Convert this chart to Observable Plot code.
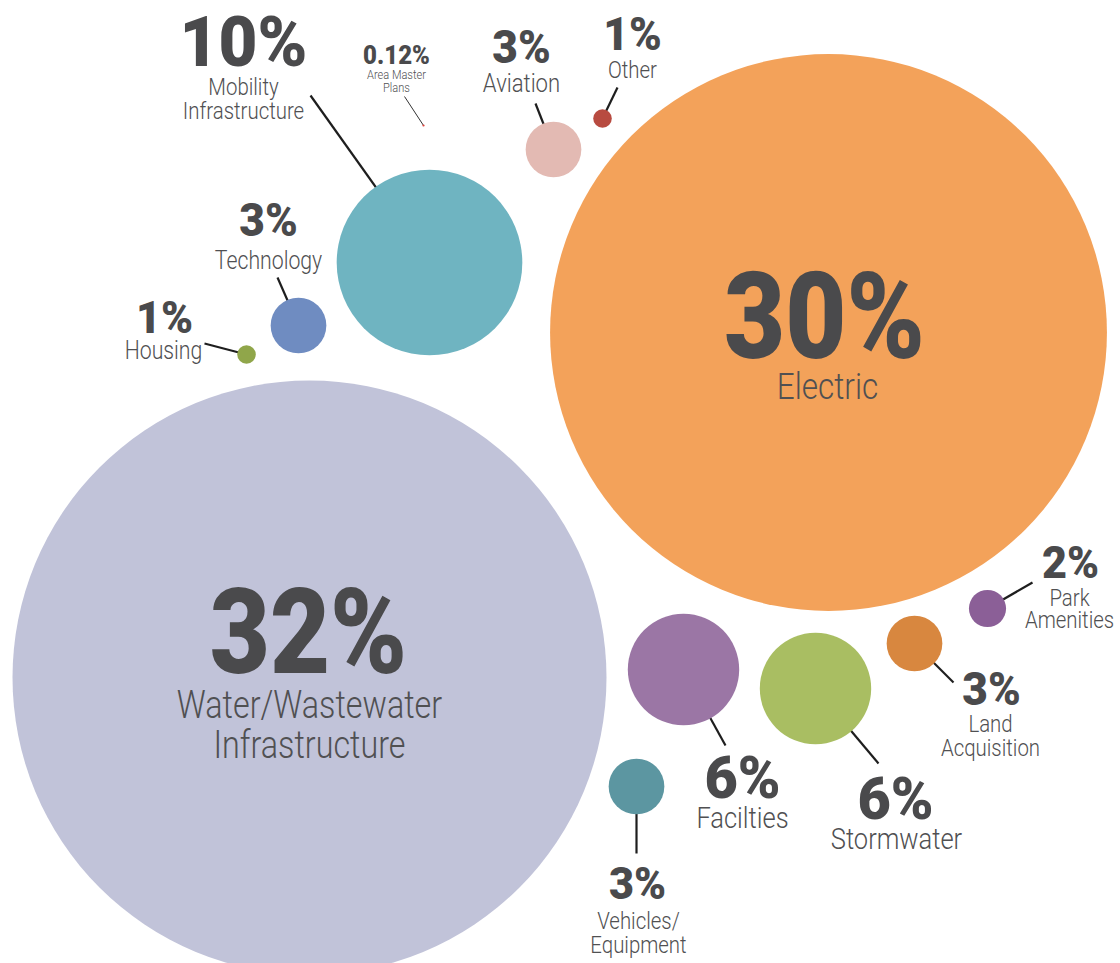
<!DOCTYPE html>
<html>
<head>
<meta charset="utf-8">
<script src="https://cdn.jsdelivr.net/npm/d3@7"></script>
<script src="https://cdn.jsdelivr.net/npm/@observablehq/plot@0.6"></script>
<style>
  html, body { margin: 0; padding: 0; background: #ffffff; }
  #chart svg { display: block; }
</style>
</head>
<body>
<div id="chart"></div>
<script>
// ---- data ----
const categories = ["Water/Wastewater Infrastructure", "Electric", "Mobility Infrastructure", "Facilities", "Stormwater", "Technology", "Aviation", "Land Acquisition", "Vehicles/Equipment", "Park Amenities", "Housing", "Other", "Area Master Plans"];
const shares = [32, 30, 10, 6, 6, 3, 3, 3, 3, 2, 1, 1, 0.12];
const shareLabels = ["32%", "30%", "10%", "6%", "6%", "3%", "3%", "3%", "3%", "2%", "1%", "1%", "0.12%"];
const nameLines = [["Water/Wastewater", "Infrastructure"], ["Electric"], ["Mobility", "Infrastructure"], ["Facilties"], ["Stormwater"], ["Technology"], ["Aviation"], ["Land", "Acquisition"], ["Vehicles/", "Equipment"], ["Park", "Amenities"], ["Housing"], ["Other"], ["Area Master", "Plans"]];
const colors = ["#c1c3d9", "#f3a25a", "#6fb4c1", "#9b76a5", "#a9be62", "#6f8cc1", "#e3bab3", "#d8873f", "#5c96a1", "#8b5f97", "#90a64a", "#b84b40", "#e0403a"];

// ---- hand layout of the bubble chart (chart units, y downward) ----
const bubbleX = [309, 828, 429, 683, 815, 298, 553, 914, 636, 987, 246, 602, 423];
const bubbleY = [677, 332, 262, 669, 688, 325, 149, 643, 786, 608, 354, 118, 125];
const pctX = [308, 824, 243, 742, 895, 268, 521, 991, 637, 1070, 164, 632, 396];
const pctY = [672, 357, 65, 797, 818, 235, 62, 704, 898, 577, 332, 49, 63];
const pctSize = [118, 120, 70, 60, 60, 46, 46, 46, 45, 45, 45, 46, 25];
const nameX = [309, 827, 243, 742, 896, 268, 521, 990, 638, 1069, 163, 632, 396];
const nameY = [717, 398, 94, 827, 848, 268, 91, 731, 928, 605, 358, 77, 78];
const nameGap = [40, 0, 24, 0, 0, 0, 0, 24, 24, 22, 0, 0, 13];
const nameSize = [38, 37, 24, 30, 30, 25, 26, 24, 24, 24, 25, 24, 13];
const leaderX = [null, null, 310, 725, 878, 277, 535, 953, 636, 1032, 204, 617, 404];
const leaderY = [null, null, 95, 745, 763, 277, 103, 682, 853, 582, 343, 87, 96];

// ---- tables built from the arrays ----
const bubbles = categories.map((c, i) => ({category: c, share: shares[i], x: bubbleX[i], y: bubbleY[i]}));
const leaders = categories.map((c, i) => ({category: c, x1: leaderX[i], y1: leaderY[i], x2: bubbleX[i], y2: bubbleY[i]}))
  .filter(d => d.x1 != null);
const pctRows = categories.map((c, i) => ({text: shareLabels[i], x: pctX[i], y: pctY[i], size: pctSize[i]}));
const nameRows = categories.flatMap((c, i) => nameLines[i].map((t, k) => ({text: t, x: nameX[i], y: nameY[i] + k * nameGap[i], size: nameSize[i]})));

const chart = Plot.plot({
  width: 1120,
  height: 963,
  margin: 0,
  x: {domain: [0, 1120], range: [0, 1120], axis: null},
  y: {domain: [0, 963], range: [0, 963], axis: null},
  r: {type: "linear", domain: [0, 32], range: [0, 297]},
  color: {domain: categories, range: colors},
  style: {background: "#ffffff", fontFamily: "Roboto, 'Liberation Sans', sans-serif", overflow: "visible"},
  marks: [
    Plot.link(leaders.filter(d => d.category !== "Area Master Plans"), {x1: "x1", y1: "y1", x2: "x2", y2: "y2", stroke: "#1e1e1e", strokeWidth: 2.2}),
    Plot.link(leaders.filter(d => d.category === "Area Master Plans"), {x1: "x1", y1: "y1", x2: "x2", y2: "y2", stroke: "#333", strokeWidth: 1}),
    Plot.dot(bubbles, {x: "x", y: "y", r: "share", fill: "category", stroke: "none"}),
    Plot.text(pctRows, {x: "x", y: "y", text: "text", fontSize: d => d.size, fontWeight: 900, fill: "#4a4a4c", textAnchor: "middle", lineAnchor: "bottom"}),
    Plot.text(nameRows, {x: "x", y: "y", text: "text", fontSize: d => d.size, fontWeight: 300, fill: "#505052", textAnchor: "middle", lineAnchor: "bottom"})
  ]
});

// condense the type horizontally, like the condensed face of the original
const textGroups = chart.querySelectorAll("g[aria-label='text']");
textGroups.forEach((g, gi) => {
  g.querySelectorAll("text").forEach((t, i) => {
    const sx = gi === 0 ? (pctRows[i].size >= 100 ? 0.88 : 0.96) : 0.85;
    const tr = t.getAttribute("transform") || "";
    t.setAttribute("transform", tr + ` scale(${sx},1)`);
  });
});

document.getElementById("chart").appendChild(chart);
</script>
</body>
</html>
